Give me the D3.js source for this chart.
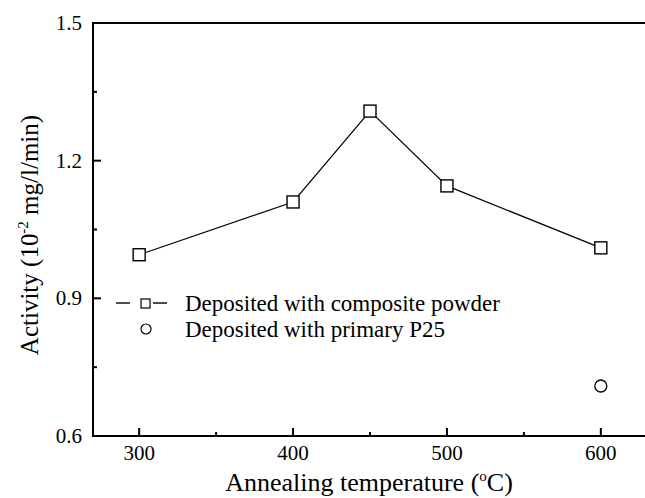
<!DOCTYPE html>
<html>
<head>
<meta charset="utf-8">
<script src="https://cdn.jsdelivr.net/npm/d3@7"></script>
<style>
  body { margin: 0; background: #fff; }
  svg text { font-family: "Liberation Serif", "Times New Roman", serif; fill: #000; }
</style>
</head>
<body>
<div id="chart"></div>
<script>
// annealing temperature (C) and activity (10^-2 mg/l/min)
const temps = [300, 400, 450, 500, 600];
const composite = [0.995, 1.110, 1.308, 1.145, 1.010];
const p25Temps = [600];
const p25 = [0.709];
const xTicks = [300, 400, 500, 600];
const xMinor = [350, 450, 550];
const yTicks = [0.6, 0.9, 1.2, 1.5];
const yMinor = [0.75, 1.05, 1.35];

const width = 645, height = 498;
const margin = {top: 23, right: -2, bottom: 62, left: 93};
const svg = d3.select("#chart").append("svg")
    .attr("width", width)
    .attr("height", height);

const x = d3.scaleLinear().domain([270, 630]).range([margin.left, width - margin.right]);
const y = d3.scaleLinear().domain([0.6, 1.5]).range([height - margin.bottom, margin.top]);

// frame: left, top, bottom (right side runs off the page)
const frame = svg.append("g").attr("stroke", "#000").attr("stroke-width", 2).attr("fill", "none");
frame.append("line").attr("x1", x(270)).attr("x2", x(270)).attr("y1", y(0.6) + 1).attr("y2", y(1.5) - 1);
frame.append("line").attr("x1", x(270) - 1).attr("x2", width).attr("y1", y(1.5)).attr("y2", y(1.5));
frame.append("line").attr("x1", x(270) - 1).attr("x2", width).attr("y1", y(0.6)).attr("y2", y(0.6));

// ticks point inwards
const xAxis = svg.append("g").attr("transform", `translate(0,${y(0.6)})`);
xAxis.selectAll(".major").data(xTicks).enter().append("line")
    .attr("x1", d => x(d)).attr("x2", d => x(d))
    .attr("y1", 0).attr("y2", -8)
    .attr("stroke", "#000").attr("stroke-width", 2);
xAxis.selectAll(".minor").data(xMinor).enter().append("line")
    .attr("x1", d => x(d)).attr("x2", d => x(d))
    .attr("y1", 0).attr("y2", -4)
    .attr("stroke", "#000").attr("stroke-width", 2);
xAxis.selectAll("text").data(xTicks).enter().append("text")
    .attr("x", d => x(d)).attr("y", 24)
    .attr("text-anchor", "middle")
    .style("font-size", "21px")
    .text(d => d);

const yAxis = svg.append("g").attr("transform", `translate(${x(270)},0)`);
yAxis.selectAll(".major").data(yTicks).enter().append("line")
    .attr("x1", 0).attr("x2", 8)
    .attr("y1", d => y(d)).attr("y2", d => y(d))
    .attr("stroke", "#000").attr("stroke-width", 2);
yAxis.selectAll(".minor").data(yMinor).enter().append("line")
    .attr("x1", 0).attr("x2", 4)
    .attr("y1", d => y(d)).attr("y2", d => y(d))
    .attr("stroke", "#000").attr("stroke-width", 2);
yAxis.selectAll("text").data(yTicks).enter().append("text")
    .attr("x", -11).attr("y", d => y(d) + 7)
    .attr("text-anchor", "end")
    .style("font-size", "21px")
    .text(d => d.toFixed(1));

// axis titles
const xt = svg.append("text")
    .attr("x", (x(270) + width) / 2).attr("y", 491)
    .attr("text-anchor", "middle")
    .style("font-size", "26px");
xt.append("tspan").text("Annealing temperature (");
xt.append("tspan").attr("dy", -10).style("font-size", "15px").text("o");
xt.append("tspan").attr("dy", 10).text("C)");

const yt = svg.append("text")
    .attr("transform", "translate(38,235) rotate(-90)")
    .attr("text-anchor", "middle")
    .style("font-size", "25px");
yt.append("tspan").text("Activity (10");
yt.append("tspan").attr("dy", -10).style("font-size", "15px").text("-2");
yt.append("tspan").attr("dy", 10).text(" mg/l/min)");

// composite series
const line = d3.line().x(d => x(d[0])).y(d => y(d[1]));
const pts = temps.map((t, i) => [t, composite[i]]);
svg.append("path").datum(pts)
    .attr("d", line)
    .attr("fill", "none").attr("stroke", "#000").attr("stroke-width", 1.2);
const sq = 12;
svg.selectAll(".sq").data(pts).enter().append("rect")
    .attr("x", d => x(d[0]) - sq / 2).attr("y", d => y(d[1]) - sq / 2)
    .attr("width", sq).attr("height", sq)
    .attr("fill", "#fff").attr("stroke", "#000").attr("stroke-width", 1.4);

// P25 series
svg.selectAll(".circ").data(p25Temps.map((t, i) => [t, p25[i]])).enter().append("circle")
    .attr("cx", d => x(d[0])).attr("cy", d => y(d[1]))
    .attr("r", 6)
    .attr("fill", "#fff").attr("stroke", "#000").attr("stroke-width", 1.3);

// legend
const lg = svg.append("g");
lg.append("line").attr("x1", 116).attr("x2", 130).attr("y1", 303).attr("y2", 303)
    .attr("stroke", "#000").attr("stroke-width", 1.4);
lg.append("line").attr("x1", 153).attr("x2", 167).attr("y1", 303).attr("y2", 303)
    .attr("stroke", "#000").attr("stroke-width", 1.4);
lg.append("rect").attr("x", 141).attr("y", 299).attr("width", 9).attr("height", 9)
    .attr("fill", "#fff").attr("stroke", "#000").attr("stroke-width", 1.2);
lg.append("text").attr("x", 185).attr("y", 311).style("font-size", "23px")
    .text("Deposited with composite powder");
lg.append("circle").attr("cx", 146).attr("cy", 329).attr("r", 5)
    .attr("fill", "#fff").attr("stroke", "#000").attr("stroke-width", 1.2);
lg.append("text").attr("x", 185).attr("y", 337).style("font-size", "23px")
    .text("Deposited with primary P25");
</script>
</body>
</html>
